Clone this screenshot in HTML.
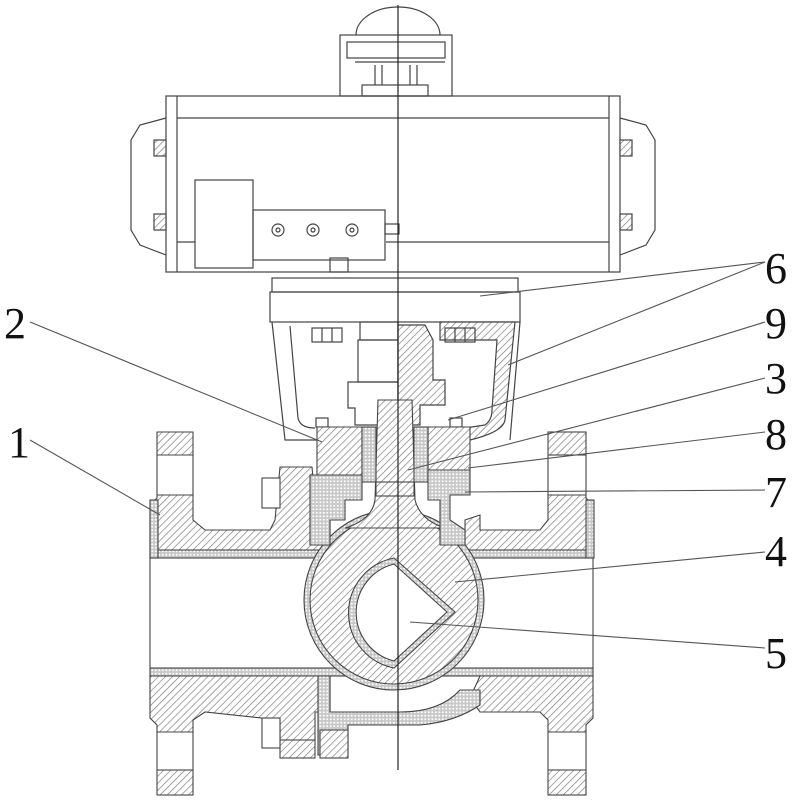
<!DOCTYPE html>
<html><head><meta charset="utf-8"><style>
html,body{margin:0;padding:0;background:#fff;}
svg{display:block;}
text{font-family:"Liberation Serif",serif;font-size:44px;fill:#111;}
</style></head><body>
<svg width="800" height="800" viewBox="0 0 800 800" xmlns="http://www.w3.org/2000/svg">
<defs>
<pattern id="h" width="5" height="5" patternUnits="userSpaceOnUse" patternTransform="rotate(45)">
<rect width="5" height="5" fill="#fff"/><line x1="0" y1="0" x2="0" y2="5" stroke="#777" stroke-width="1.3"/></pattern>
<pattern id="d" width="3.5" height="3.5" patternUnits="userSpaceOnUse">
<rect width="3.5" height="3.5" fill="#c8c8c8"/><circle cx="1.75" cy="1.75" r="1" fill="#fff"/></pattern>
</defs>
<g stroke="#444" stroke-width="1.2" fill="none">
<!-- actuator top -->
<path d="M356 35 A42 28 0 0 1 440 35" />
<rect x="340" y="35" width="112" height="61"/>
<rect x="347" y="42" width="98" height="16"/>
<line x1="355" y1="62" x2="445" y2="62"/>
<line x1="375" y1="65" x2="375" y2="85"/><line x1="382" y1="65" x2="382" y2="85"/>
<line x1="410" y1="65" x2="410" y2="85"/><line x1="417" y1="65" x2="417" y2="85"/>
<rect x="362" y="85" width="66" height="11"/>
<!-- actuator body -->
<rect x="166" y="96" width="454" height="176"/>
<line x1="177" y1="96" x2="177" y2="272"/><line x1="609" y1="96" x2="609" y2="272"/>
<line x1="177" y1="118" x2="609" y2="118"/>
<line x1="386" y1="242" x2="609" y2="242"/><line x1="177" y1="242" x2="195" y2="242"/>
<path d="M166 118 L140 125 L131 140 L131 230 L140 245 L166 255"/>
<path d="M620 118 L646 125 L655 140 L655 230 L646 245 L620 255"/>
<rect x="154" y="140" width="12" height="16" fill="url(#h)"/><rect x="154" y="214" width="12" height="16" fill="url(#h)"/>
<rect x="620" y="140" width="12" height="16" fill="url(#h)"/><rect x="620" y="214" width="12" height="16" fill="url(#h)"/>
<rect x="195" y="180" width="58" height="88"/>
<rect x="253" y="210" width="132" height="50"/>
<circle cx="278" cy="230" r="6"/><circle cx="278" cy="230" r="2"/>
<circle cx="313" cy="230" r="6"/><circle cx="313" cy="230" r="2"/>
<circle cx="352" cy="230" r="6"/><circle cx="352" cy="230" r="2"/>
<rect x="385" y="224" width="14" height="10"/>
<rect x="330" y="258" width="18" height="14"/>
<!-- adapter plate -->
<rect x="272" y="278" width="246" height="14"/>
<rect x="270" y="292" width="250" height="30"/>
<!-- bracket -->
<path d="M272 322 L285 440 L318 440"/>
<path d="M290 326 L298 418 Q300 428 315 428"/>
<path d="M440 322 L515 322 L505 420 Q503 432 470 440 L465 440 L465 428 L485 425 Q492 420 492 410 L497 340 L440 340 Z" fill="url(#h)"/>
<path d="M520 322 L510 440"/>
<rect x="360" y="322" width="38" height="18"/>
<rect x="312" y="328" width="30" height="14"/><line x1="322" y1="328" x2="322" y2="342"/><line x1="332" y1="328" x2="332" y2="342"/>
<rect x="445" y="328" width="30" height="14"/><line x1="455" y1="328" x2="455" y2="342"/><line x1="465" y1="328" x2="465" y2="342"/>
<rect x="358" y="340" width="40" height="42"/>
<path d="M348 382 L398 382 L398 425 L355 425 L355 408 L348 408 Z"/>
<path d="M398 325 L425 325 L433 340 L433 380 L445 380 L445 405 L420 405 L420 425 L398 425 Z" fill="url(#h)"/>
<rect x="316" y="418" width="12" height="9"/><rect x="450" y="418" width="12" height="9"/>
</g>
<g stroke="#444" stroke-width="1.1">
<!-- flanges -->
<path d="M157 432 L193 432 L193 455 L157 455 Z" fill="url(#h)"/>
<path d="M157 495 L193 495 L193 520 L205 530 L270 530 L275 520 L280 467 L312 467 L315 500 L330 505 L330 550 L150 550 L150 505 L157 498 Z" fill="url(#h)"/>
<rect x="150" y="550" width="180" height="8" fill="url(#d)"/>
<rect x="150" y="500" width="8" height="58" fill="url(#d)"/>
<path d="M157 455 L157 495 M193 455 L193 495" fill="none"/>
<rect x="262" y="478" width="18" height="30" fill="#fff"/>
<rect x="548" y="432" width="38" height="23" fill="url(#h)"/>
<path d="M586 495 L586 498 L593 505 L593 550 L465 550 L465 520 L480 515 L480 530 L540 530 L548 520 L548 495 Z" fill="url(#h)"/>
<rect x="460" y="550" width="133" height="8" fill="url(#d)"/>
<rect x="586" y="500" width="8" height="58" fill="url(#d)"/>
<path d="M548 455 L548 495 M586 455 L586 495" fill="none"/>
<!-- bore -->
<line x1="150" y1="558" x2="150" y2="668"/><line x1="593" y1="558" x2="593" y2="668"/>
<!-- bottom -->
<rect x="150" y="668" width="443" height="8" fill="url(#d)"/>
<path d="M150 676 L330 676 L330 712 L315 712 L315 740 L280 740 L280 720 L205 712 L193 720 L193 732 L157 732 L157 725 L150 718 Z" fill="url(#h)"/>
<rect x="157" y="770" width="36" height="25" fill="url(#h)"/>
<path d="M157 732 L157 770 M193 732 L193 770" fill="none"/>
<rect x="280" y="740" width="35" height="18" fill="url(#h)"/>
<rect x="262" y="718" width="18" height="30" fill="#fff"/>
<path d="M593 676 L593 718 L586 725 L586 732 L548 732 L548 720 L540 712 L480 712 L470 698 L480 676 Z" fill="url(#h)"/>
<rect x="548" y="770" width="38" height="25" fill="url(#h)"/>
<path d="M548 732 L548 770 M586 732 L586 770" fill="none"/>
<path d="M318 676 L318 755 L348 755 L348 725 L420 725 Q455 722 480 705 L480 690 L460 690 Q440 712 400 712 L330 712 L330 676 Z" fill="url(#d)"/>
<rect x="320" y="730" width="28" height="28" fill="url(#h)"/>
<!-- ball -->
<circle cx="394" cy="600" r="90" fill="url(#d)"/>
<circle cx="394" cy="600" r="84" fill="url(#h)"/>
<path d="M394 558 L455 612 L394 668 A56 56 0 0 1 394 558 Z" fill="url(#d)"/>
<path d="M394 564 L447 612 L394 661 A50 50 0 0 1 394 564 Z" fill="#fff"/>
<!-- stem neck -->
<path d="M378 400 L412 400 L415 500 Q420 520 445 528 L345 528 Q372 520 375 500 Z" fill="url(#h)"/>
<!-- bonnet -->
<path d="M317 427 L362 427 L362 478 L317 478 Z" fill="url(#h)"/>
<path d="M428 427 L470 427 L470 470 L428 470 Z" fill="url(#h)"/>
<rect x="362" y="427" width="14" height="55" fill="url(#d)"/>
<rect x="414" y="427" width="14" height="55" fill="url(#d)"/>
<path d="M310 475 L362 475 L362 500 L345 500 L345 520 L330 520 L330 545 L310 545 Z" fill="url(#d)"/>
<path d="M428 470 L470 470 L470 495 L450 495 L450 520 L465 530 L465 545 L440 545 L440 500 L428 500 Z" fill="url(#d)"/>
<rect x="376" y="482" width="38" height="14" fill="url(#h)"/>
</g>
<!-- centerline -->
<line x1="398" y1="5" x2="398" y2="770" stroke="#222" stroke-width="1.2"/>
<!-- leaders -->
<g stroke="#555" stroke-width="1.1">
<line x1="765" y1="262" x2="480" y2="296"/>
<line x1="765" y1="262" x2="508" y2="365"/>
<line x1="765" y1="322" x2="448" y2="420"/>
<line x1="765" y1="378" x2="408" y2="470"/>
<line x1="765" y1="432" x2="468" y2="468"/>
<line x1="765" y1="490" x2="465" y2="492"/>
<line x1="765" y1="552" x2="455" y2="582"/>
<line x1="765" y1="648" x2="410" y2="622"/>
<line x1="30" y1="322" x2="322" y2="442"/>
<line x1="30" y1="440" x2="160" y2="515"/>
</g>
<text x="765" y="283">6</text>
<text x="765" y="338">9</text>
<text x="765" y="393">3</text>
<text x="765" y="449">8</text>
<text x="765" y="507">7</text>
<text x="765" y="566">4</text>
<text x="765" y="668">5</text>
<text x="4" y="338">2</text>
<text x="8" y="457">1</text>
</svg>
</body></html>
